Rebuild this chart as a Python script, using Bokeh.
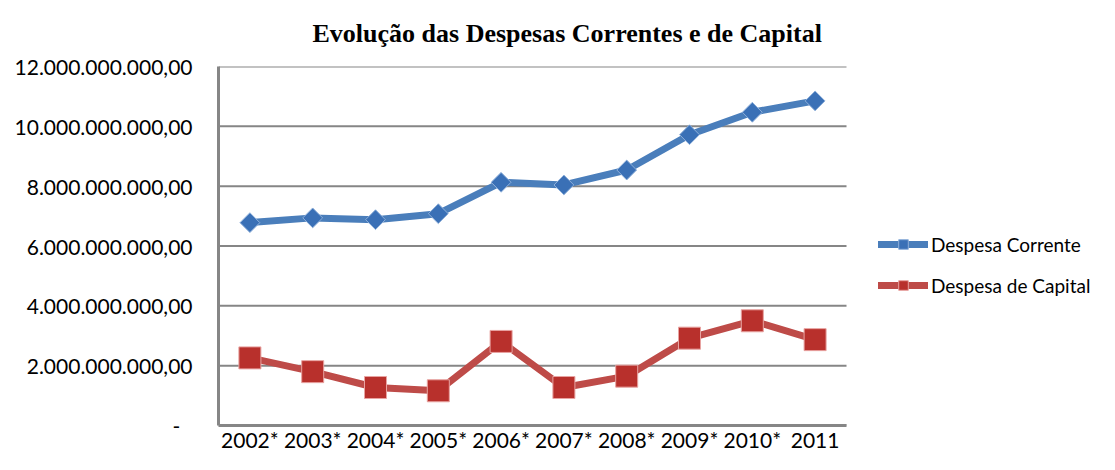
from bokeh.plotting import figure
from bokeh.models import Range1d, FixedTicker, Legend, LegendItem, ColumnDataSource
from bokeh.embed import file_html
from bokeh.resources import INLINE

years = ["2002*", "2003*", "2004*", "2005*", "2006*", "2007*", "2008*", "2009*", "2010*", "2011"]
despesa_corrente = [6.78e9, 6.94e9, 6.88e9, 7.08e9, 8.13e9, 8.04e9, 8.54e9, 9.72e9, 10.47e9, 10.85e9]
despesa_capital = [2.26e9, 1.80e9, 1.27e9, 1.16e9, 2.81e9, 1.27e9, 1.65e9, 2.92e9, 3.50e9, 2.87e9]
y_ticks = [0, 2000000000, 4000000000, 6000000000, 8000000000, 10000000000, 12000000000]
y_tick_labels = ["-\u2007", "2.000.000.000,00", "4.000.000.000,00", "6.000.000.000,00",
                 "8.000.000.000,00", "10.000.000.000,00", "12.000.000.000,00"]
title_text = "Evolução das Despesas Correntes e de Capital"
series_names = ["Despesa Corrente", "Despesa de Capital"]

n = len(years)
idx = list(range(n))
src = ColumnDataSource(dict(x=idx, cor=despesa_corrente, cap=despesa_capital))

W, H = 1099, 454
left, top, bottom = 218, 66, 26
cat_px = 62.8                       # width of one category slot
frame_w = W - left
x_end = -0.5 + frame_w / cat_px     # extra room on the right holds the legend

p = figure(x_range=Range1d(-0.5, x_end), y_range=Range1d(0, 12e9), width=W, height=H,
           output_backend="svg", toolbar_location=None,
           min_border_left=left, min_border_right=0, min_border_top=top, min_border_bottom=bottom)
p.outline_line_color = None
p.background_fill_color = "white"
p.border_fill_color = "white"

p.title.text = title_text
p.title.text_font = "Liberation Serif"
p.title.text_font_style = "bold"
p.title.text_font_size = "26px"
p.title.text_color = "black"
p.title.align = "left"
p.title.offset = 94
p.title.vertical_align = "top"
p.title.standoff = 34

grey = "#868686"
p.yaxis.ticker = FixedTicker(ticks=y_ticks)
p.yaxis.major_label_overrides = {t: l for t, l in zip(y_ticks, y_tick_labels)}
p.xaxis.ticker = FixedTicker(ticks=idx)
p.xaxis.major_label_overrides = {i: y for i, y in zip(idx, years)}
p.xaxis.bounds = (-0.5, n - 0.5)
for ax in (p.xaxis[0], p.yaxis[0]):
    ax.axis_line_color = grey
    ax.axis_line_width = 3
    ax.major_tick_line_color = None
    ax.minor_tick_line_color = None
    ax.major_tick_out = 0
    ax.major_tick_in = 0
    ax.major_label_text_font = "Lato"
    ax.major_label_text_color = "black"
p.yaxis.major_label_text_font_size = "21px"
p.yaxis.major_label_standoff = 26
p.xaxis.major_label_text_font_size = "21px"
p.xaxis.major_label_standoff = 1
p.xgrid.grid_line_color = None
p.ygrid.grid_line_color = None

# horizontal gridlines, only across the category slots
p.segment(x0=[-0.5] * len(y_ticks), x1=[n - 0.5] * len(y_ticks), y0=y_ticks, y1=y_ticks,
          line_color=grey, line_width=2)

# series
l1 = p.line("x", "cor", source=src, line_color="#4A7EBB", line_width=7, line_join="round", line_cap="round")
m1 = p.scatter("x", "cor", source=src, marker="square", angle=0.785398, size=14,
               fill_color="#3A70B6", line_color="#8FB0DA", line_width=1)
l2 = p.line("x", "cap", source=src, line_color="#BE4B48", line_width=7, line_join="round", line_cap="round")
m2 = p.scatter("x", "cap", source=src, marker="square", size=22,
               fill_color="#B8302C", line_color="#E8A3A1", line_width=1)

legend = Legend(items=[LegendItem(label=series_names[0], renderers=[l1, m1]),
                       LegendItem(label=series_names[1], renderers=[l2, m2])],
                location=(660, 128), orientation="vertical",
                border_line_color=None, background_fill_alpha=0,
                margin=0, padding=0, spacing=17,
                glyph_width=50, glyph_height=24, label_standoff=3,
                label_text_font="Lato", label_text_font_size="19px", label_text_color="black")
p.add_layout(legend, "center")

open("out.html", "w").write(file_html(p, INLINE))
